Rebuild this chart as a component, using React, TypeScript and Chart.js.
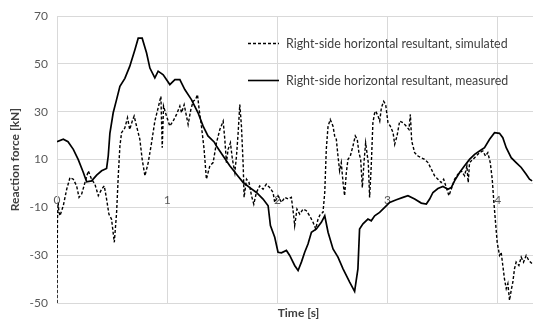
import React, { useEffect, useRef } from "react";
import { Chart, registerables } from "chart.js";

Chart.register(...registerables);

const FONT = "Lato, 'Open Sans', sans-serif";

const seriesNames = [
  "Right-side horizontal resultant, simulated",
  "Right-side horizontal resultant, measured",
];
const xTitle = "Time [s]";
const yTitle = "Reaction force [kN]";

const xTicksMax = 4.32;
const yTickMin = -50;
const yTickMax = 70;
const yTickStep = 20;
const xTickStep = 1;

// Simulated series (time in s, force in kN)
const simTime = [
  0, 0.004, 0.01, 0.018, 0.027, 0.057, 0.088, 0.118, 0.148, 0.178,
  0.2, 0.224, 0.254, 0.284, 0.314, 0.344, 0.375, 0.405, 0.429, 0.45,
  0.471, 0.495, 0.52, 0.541, 0.556, 0.571, 0.586, 0.616, 0.64, 0.66,
  0.683, 0.7, 0.722, 0.752, 0.773, 0.798, 0.828, 0.858, 0.888, 0.918,
  0.943, 0.955, 0.967, 0.994, 1.024, 1.054, 1.085, 1.115, 1.13, 1.154,
  1.175, 1.19, 1.215, 1.236, 1.257, 1.275, 1.29, 1.311, 1.335, 1.356,
  1.387, 1.417, 1.447, 1.478, 1.508, 1.523, 1.538, 1.553, 1.574, 1.592,
  1.614, 1.629, 1.644, 1.659, 1.674, 1.69, 1.698, 1.72, 1.743, 1.765,
  1.786, 1.81, 1.84, 1.87, 1.9, 1.93, 1.961, 1.976, 2.006, 2.037,
  2.067, 2.097, 2.127, 2.148, 2.157, 2.178, 2.203, 2.233, 2.263, 2.293,
  2.324, 2.348, 2.369, 2.39, 2.414, 2.43, 2.444, 2.46, 2.48, 2.505,
  2.52, 2.535, 2.55, 2.565, 2.58, 2.596, 2.61, 2.626, 2.641, 2.662,
  2.686, 2.707, 2.725, 2.74, 2.756, 2.771, 2.786, 2.801, 2.813, 2.825,
  2.837, 2.852, 2.867, 2.883, 2.892, 2.914, 2.929, 2.944, 2.965, 2.983,
  3.004, 3.025, 3.05, 3.065, 3.086, 3.11, 3.14, 3.17, 3.194, 3.207,
  3.219, 3.246, 3.276, 3.306, 3.336, 3.367, 3.397, 3.427, 3.457, 3.487,
  3.509, 3.533, 3.557, 3.578, 3.608, 3.639, 3.669, 3.699, 3.72, 3.732,
  3.744, 3.775, 3.805, 3.835, 3.865, 3.889, 3.91, 3.932, 3.95, 3.965,
  3.98, 3.995, 4.016, 4.031, 4.046, 4.061, 4.077, 4.092, 4.107, 4.122,
  4.137, 4.152, 4.167, 4.192, 4.213, 4.234, 4.258, 4.282, 4.312,
];
const simForce = [
  -50, -15, -8, -12, -13.5, -9.3, -2.4, 2.5, 1.8, -1,
  -5.8, -4.4, 0.4, 5.3, 1.8, -0.3, -5.1, -2.4, -1, -6.5,
  -12.8, -14.9, -24.6, -12.1, 3.2, 15.7, 21.25, 23.3, 27.5, 22.6,
  26.1, 28.2, 24, 18.5, 10.1, 3.2, 8.75, 17, 26.1, 31.7,
  36.5, 15, 32.4, 28.2, 24, 26.1, 28.9, 32.4, 29.6, 33,
  28.2, 24.7, 31, 34.4, 35.1, 37.2, 31, 24, 14.3, 1.8,
  7.4, 8.75, 17, 22.6, 26.1, 18.5, 8.75, 14.3, 17, 10.1,
  4.6, 11.5, 21.25, 33, 24, 7.4, -5.8, 1.8, 0.4, -5.1,
  -8.6, -3.75, -1, -2.4, -0.3, -1.7, -3.75, -7.9, -5.1, -7.9,
  -5.8, -6.5, -5.8, -13.5, -17.6, -10.7, -12.8, -10.7, -11.4, -13.5,
  -16.25, -19, -14.9, -12.8, -12.1, -3.75, 14.3, 24, 26.8, 24,
  19.9, 18.5, 11.5, 5.3, 8.75, 0.4, -5.1, 4.6, 10.1, 11.5,
  15.7, 19.9, 18.5, 12.9, 10.1, -1.7, 8.75, 17, 12.9, 8.75,
  -5.8, 7.4, 25.4, 29.6, 30.3, 28.2, 26.1, 31.7, 34.4, 33,
  25.4, 24, 21.25, 16.4, 19.9, 26.1, 25.4, 24, 22.6, 28.9,
  17.8, 12.9, 11.5, 10.8, 10.1, 8.75, 6, 3.2, 1.8, 0.4,
  1.8, -1.7, -5.1, -2.4, 1.8, 3.9, 5.3, 3.2, 7.4, 0.4,
  8.75, 10.1, 11.5, 12.9, 13.6, 11.5, 12.9, 8.75, 1.8, -7.9,
  -16.25, -24.6, -30.1, -28.75, -34.3, -39.9, -44, -41.9, -48.9, -44.7,
  -41.25, -35.7, -32.9, -34.3, -30.8, -32.9, -30.1, -32.2, -33.6,
];

// Measured series
const measTime = [
  0, 0.057, 0.1, 0.148, 0.193, 0.239, 0.269, 0.314, 0.36, 0.405,
  0.45, 0.465, 0.48, 0.51, 0.54, 0.571, 0.616, 0.66, 0.707, 0.737,
  0.773, 0.813, 0.843, 0.888, 0.918, 0.964, 1.024, 1.07, 1.115, 1.16,
  1.22, 1.28, 1.326, 1.37, 1.426, 1.447, 1.508, 1.568, 1.629, 1.69,
  1.75, 1.81, 1.87, 1.916, 1.937, 1.976, 2.006, 2.037, 2.082, 2.112,
  2.157, 2.188, 2.218, 2.248, 2.278, 2.309, 2.354, 2.399, 2.43, 2.46,
  2.505, 2.55, 2.596, 2.656, 2.701, 2.731, 2.746, 2.777, 2.822, 2.852,
  2.883, 2.928, 2.974, 3.019, 3.08, 3.14, 3.185, 3.246, 3.306, 3.352,
  3.382, 3.412, 3.457, 3.503, 3.548, 3.578, 3.608, 3.654, 3.699, 3.744,
  3.79, 3.835, 3.88, 3.926, 3.971, 4.016, 4.046, 4.077, 4.122, 4.167,
  4.213, 4.258, 4.288, 4.312,
];
const measForce = [
  17.5, 18.5, 17.5, 14.3, 10, 4.6, 0.7, 1.1, 3.5, 5.3,
  6.3, 11.5, 21, 29.6, 35, 40.7, 44, 49, 56, 60.8,
  60.8, 54.6, 48.3, 44.2, 47, 45.5, 41.4, 43.5, 43.5, 39.3,
  35.1, 29.6, 24, 19.9, 17.4, 15.7, 11.5, 7.4, 3.9, 0.4,
  -1.7, -3.75, -6.5, -9.3, -17.6, -22.5, -28.75, -29, -28, -30.1,
  -34.3, -36.4, -32.9, -28.75, -25.3, -20.4, -19, -16.25, -13.5, -20.4,
  -27.4, -30.8, -35.7, -41.25, -45.1, -35.7, -19, -16.9, -14.9, -15.6,
  -13.5, -12.1, -10, -7.9, -6.8, -5.8, -5.1, -6.5, -8.2, -8.6,
  -6.5, -3.75, -2.1, -1.25, -2.4, -1.7, 1.1, 4.6, 7.4, 10.1,
  12.2, 13.6, 15, 18.5, 21.25, 21, 19.2, 15, 10.8, 8.75,
  6.7, 3.9, 1.8, 1.1,
];

const toPoints = (xs: number[], ys: number[]) =>
  xs.map((x, i) => ({ x, y: ys[i] }));

const overlayPlugin = {
  id: "overlay",
  afterDatasetsDraw(chart: any) {
    const ctx = chart.ctx as CanvasRenderingContext2D;
    ctx.save();
    // legend (inside plot area)
    const rows = [
      { y: 43.5, dash: [3, 2], width: 1.4 },
      { y: 80.5, dash: [], width: 1.6 },
    ];
    rows.forEach((r, i) => {
      ctx.beginPath();
      ctx.setLineDash(r.dash);
      ctx.lineWidth = r.width;
      ctx.strokeStyle = "#000000";
      ctx.moveTo(248, r.y);
      ctx.lineTo(279, r.y);
      ctx.stroke();
      ctx.setLineDash([]);
      ctx.font = `12.4px ${FONT}`;
      ctx.fillStyle = "#404040";
      ctx.textBaseline = "middle";
      ctx.textAlign = "left";
      ctx.fillText(seriesNames[i], 286, r.y);
    });
    // x axis title at bottom
    ctx.font = `bold 12px ${FONT}`;
    ctx.fillStyle = "#404040";
    ctx.textAlign = "center";
    ctx.textBaseline = "middle";
    ctx.fillText(xTitle, 298.5, 313);
    ctx.restore();
  },
};

export default function App() {
  const ref = useRef<HTMLCanvasElement | null>(null);
  useEffect(() => {
    if (!ref.current) return;
    const tickFont = { family: FONT, size: 12 };
    const chart = new Chart(ref.current, {
      type: "line",
      data: {
        datasets: [
          {
            label: seriesNames[0],
            data: toPoints(simTime, simForce),
            borderColor: "#000000",
            borderWidth: 1.4,
            borderDash: [3, 2],
            pointRadius: 0,
            tension: 0,
            fill: false,
          },
          {
            label: seriesNames[1],
            data: toPoints(measTime, measForce),
            borderColor: "#000000",
            borderWidth: 1.7,
            pointRadius: 0,
            tension: 0,
            fill: false,
          },
        ],
      },
      options: {
        responsive: false,
        animation: false,
        events: [],
        layout: { padding: { top: 15, bottom: 20, left: 0, right: 0 } },
        plugins: {
          legend: { display: false },
          tooltip: { enabled: false },
          title: { display: false },
        },
        scales: {
          x: {
            type: "linear",
            min: 0,
            max: xTicksMax,
            position: { y: 0 } as any,
            grid: { color: "#d9d9d9", lineWidth: 1, drawTicks: false },
            border: { color: "#d9d9d9", width: 1 },
            ticks: {
              stepSize: xTickStep,
              includeBounds: false,
              padding: 9,
              color: "#595959",
              font: tickFont,
              maxRotation: 0,
              autoSkip: false,
            },
          },
          y: {
            type: "linear",
            min: yTickMin,
            max: yTickMax,
            grid: { color: "#d9d9d9", lineWidth: 1, drawTicks: false },
            border: { color: "#d9d9d9", width: 1 },
            ticks: {
              stepSize: yTickStep,
              padding: 9,
              color: "#595959",
              font: tickFont,
            },
            title: {
              display: true,
              text: yTitle,
              color: "#404040",
              font: { family: FONT, size: 12, weight: "bold" },
              padding: { top: 8, bottom: 0 },
            },
            afterFit: (s: any) => {
              s.width = 57;
            },
          },
        },
      },
      plugins: [overlayPlugin],
    } as any);
    return () => chart.destroy();
  }, []);
  return (
    <div style={{ position: "absolute", left: 0, top: 0, width: 533, height: 323, background: "#fff" }}>
      <canvas ref={ref} width={533} height={323} />
    </div>
  );
}
